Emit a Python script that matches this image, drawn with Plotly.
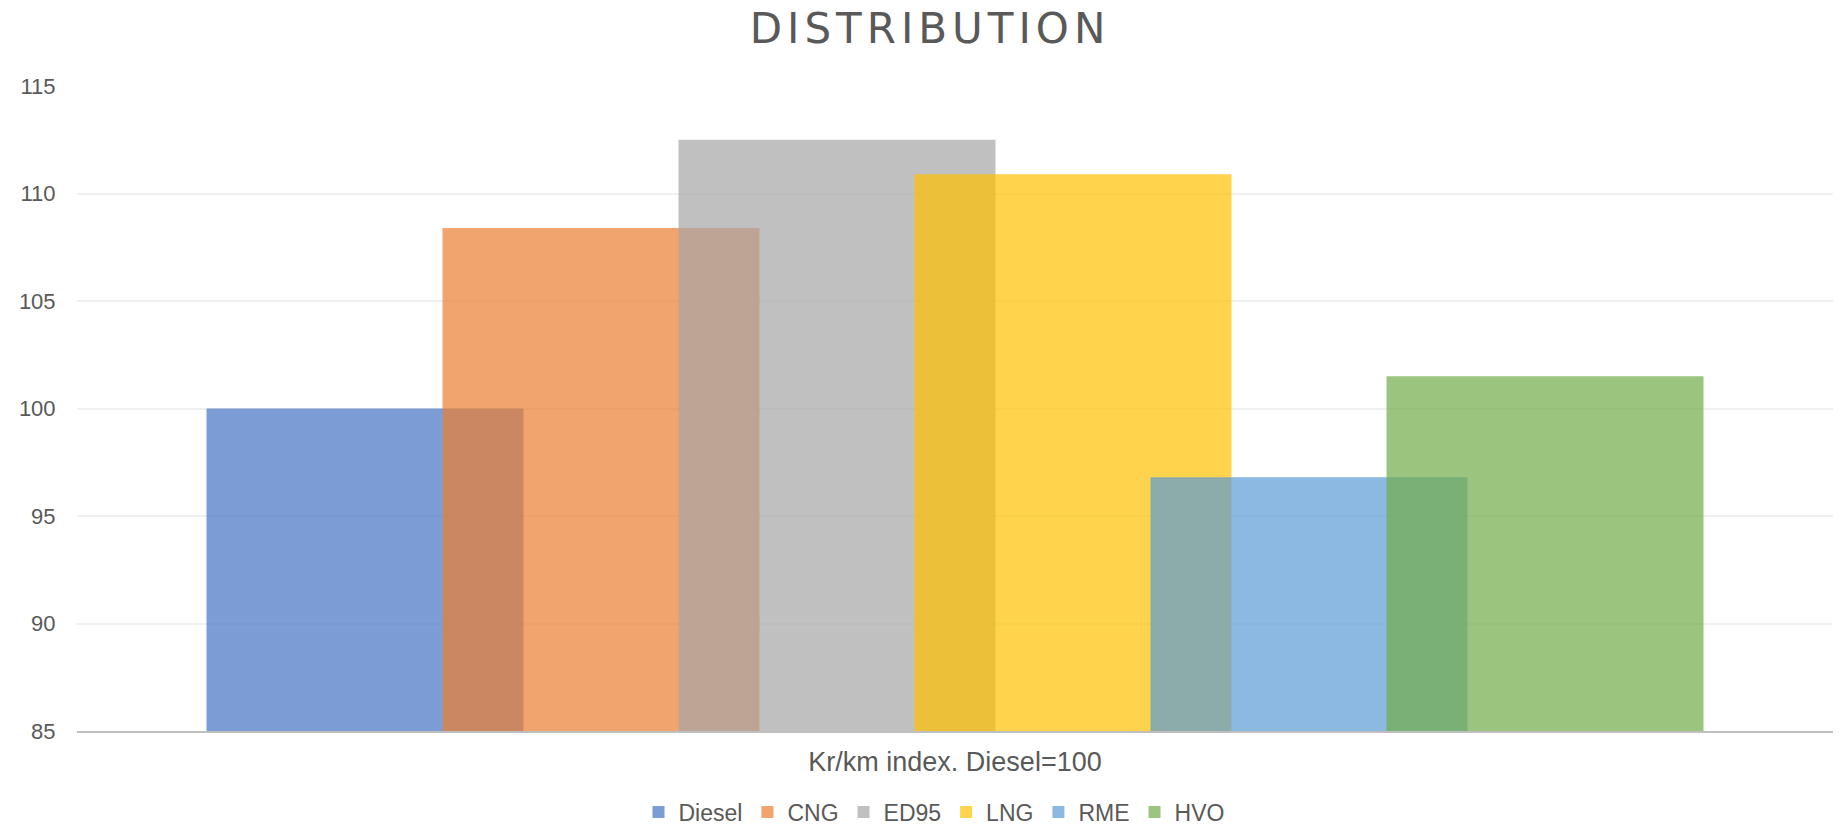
import plotly.graph_objects as go

# ---- data ----
category = ["Kr/km index. Diesel=100"]
series_names = ["Diesel", "CNG", "ED95", "LNG", "RME", "HVO"]
series_values = [100.0, 108.4, 112.5, 110.9, 96.8, 101.5]
series_colors = ["rgba(68,114,196,0.7)", "rgba(237,125,49,0.7)", "rgba(165,165,165,0.7)",
                 "rgba(255,192,0,0.7)", "rgba(91,155,213,0.7)", "rgba(112,173,71,0.7)"]
y_ticks = [85, 90, 95, 100, 105, 110, 115]

# ---- layout of the overlapped (Excel-style) cluster ----
BAR_WIDTH = 0.1805          # in category units
STEP = 0.1344               # distance between bar starts (overlap ~25%)
n = len(series_names)
first_offset = -(STEP * (n - 1) + BAR_WIDTH) / 2

fig = go.Figure()
for i, (name, val, col) in enumerate(zip(series_names, series_values, series_colors)):
    fig.add_trace(go.Bar(
        name=name,
        x=category,
        y=[val],
        width=BAR_WIDTH,
        offset=first_offset + i * STEP,
        marker=dict(color=col, line=dict(width=0)),
        hovertemplate=name + ": %{y}<extra></extra>",
    ))

fig.update_layout(
    width=1842,
    height=825,
    barmode="overlay",
    paper_bgcolor="white",
    plot_bgcolor="white",
    margin=dict(l=77, r=9, t=86, b=94, autoexpand=False),
    title=dict(
        text='<span style="letter-spacing:5px">DISTRIBUTION</span>',
        x=930 / 1842, xanchor="center",
        y=1 - 28 / 825, yanchor="middle",
        font=dict(family="DejaVu Sans", size=42, color="#595959"),
    ),
    xaxis=dict(
        type="category",
        range=[-0.5, 0.5],
        showgrid=False,
        showline=True,
        linecolor="#BFBFBF",
        linewidth=2,
        ticks="outside",
        ticklen=6,
        tickcolor="rgba(0,0,0,0)",
        tickfont=dict(family="Liberation Sans", size=27, color="#595959"),
        fixedrange=True,
    ),
    yaxis=dict(
        range=[85, 115],
        tickvals=y_ticks,
        showgrid=True,
        gridcolor="#F0F0F0",
        gridwidth=2,
        zeroline=False,
        showline=False,
        ticks="outside",
        ticklen=16,
        tickcolor="rgba(0,0,0,0)",
        tickfont=dict(family="Liberation Sans", size=22, color="#595959"),
        fixedrange=True,
    ),
    legend=dict(
        orientation="h",
        x=(934 - 77) / 1756, xanchor="center",
        y=(731 - 812) / 645, yanchor="middle",
        font=dict(family="Liberation Sans", size=23, color="#595959"),
        bgcolor="rgba(0,0,0,0)",
        itemclick=False,
        itemdoubleclick=False,
    ),
    showlegend=True,
)

fig.write_html("out.html", config={"displayModeBar": False},
               post_script="document.body.style.margin='0';")
